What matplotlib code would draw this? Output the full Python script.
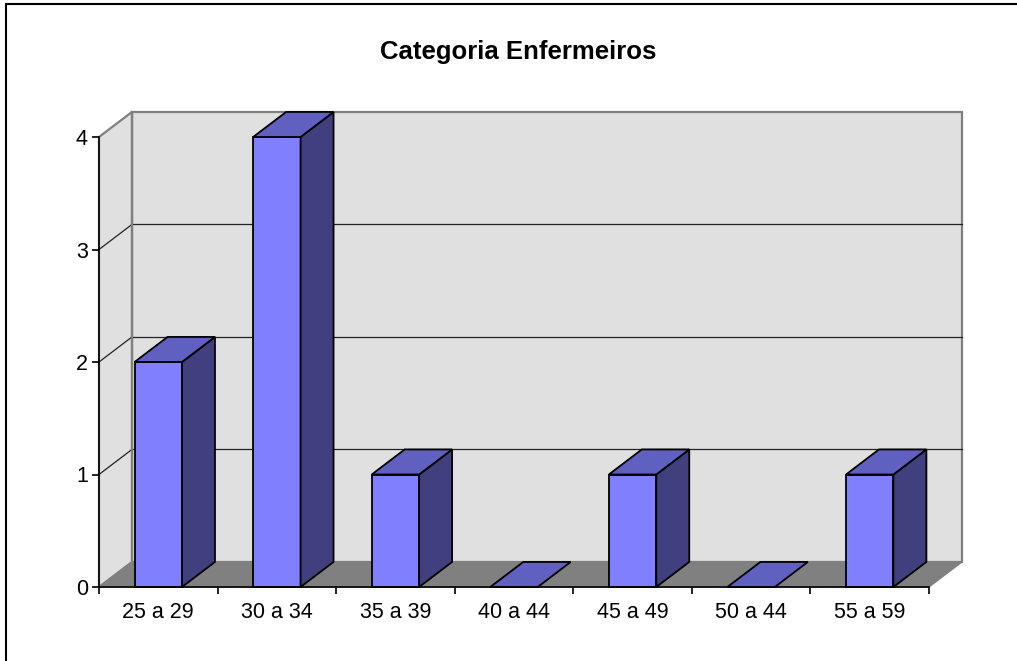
import matplotlib
matplotlib.use('Agg')
import matplotlib.pyplot as plt
from matplotlib.patches import Polygon, Rectangle

plt.rcParams['font.family'] = ['Liberation Sans', 'DejaVu Sans']

categorias = ['25 a 29', '30 a 34', '35 a 39', '40 a 44', '45 a 49', '50 a 44', '55 a 59']
valores = [2, 4, 1, 0, 1, 0, 1]
y_ticks = [0, 1, 2, 3, 4]
titulo = 'Categoria Enfermeiros'

# 3d look: depth offset in data units (x in categories, y in values)
dx = 0.278
dy = 0.2227
largura = 0.4

cor_frente = '#8080ff'
cor_lado = '#40407f'
cor_topo = '#6060c0'
cor_parede = '#e0e0e0'
cor_chao = '#808080'
cor_borda = '#808080'

fig = plt.figure(figsize=(10.17, 6.61), dpi=100)
# chart border, only left and top edges are inside the picture
fig.patches.append(Rectangle((6 / 1017, -0.05), 1.1, 1.05 - 4 / 661, transform=fig.transFigure,
                             fill=False, edgecolor='black', lw=1.5))

ax = fig.add_axes([99 / 1017, (661 - 587) / 661, 830 / 1017, 450 / 661])
n = len(categorias)
ymax = max(y_ticks)
ax.set_xlim(0, n)
ax.set_ylim(0, ymax)
ax.patch.set_visible(False)

def poly(pts, fc, ec, lw, z):
    ax.add_patch(Polygon(pts, closed=True, facecolor=fc, edgecolor=ec, lw=lw,
                         zorder=z, clip_on=False, joinstyle='miter'))

# back wall
poly([(dx, dy), (n + dx, dy), (n + dx, ymax + dy), (dx, ymax + dy)], cor_parede, cor_borda, 1.6, 1)
# left wall
poly([(0, 0), (dx, dy), (dx, ymax + dy), (0, ymax)], cor_parede, cor_borda, 1.6, 1)
# floor
poly([(0, 0), (n, 0), (n + dx, dy), (dx, dy)], cor_chao, cor_chao, 1.0, 2)

# gridlines
for v in y_ticks[1:-1]:
    ax.plot([dx, n + dx], [v + dy, v + dy], color='#222222', lw=0.9, zorder=1.5, clip_on=False)
for v in y_ticks[1:-1]:
    ax.plot([0, dx], [v, v + dy], color='#222222', lw=0.9, zorder=1.5, clip_on=False)
ax.plot([dx, dx], [dy, ymax + dy], color=cor_borda, lw=1.6, zorder=1.6, clip_on=False)

# bars
for i, v in enumerate(valores):
    x0 = i + 0.5 - largura / 2
    x1 = x0 + largura
    if v > 0:
        poly([(x0, 0), (x1, 0), (x1, v), (x0, v)], cor_frente, 'black', 1.3, 3)
        poly([(x1, 0), (x1 + dx, dy), (x1 + dx, v + dy), (x1, v)], cor_lado, 'black', 1.3, 3)
    poly([(x0, v), (x1, v), (x1 + dx, v + dy), (x0 + dx, v + dy)], cor_topo, 'black', 1.3, 3)

# axes
for s in ['top', 'right']:
    ax.spines[s].set_visible(False)
ax.spines['left'].set_linewidth(1.2)
ax.spines['bottom'].set_linewidth(1.2)
ax.spines['left'].set_zorder(4)
ax.spines['bottom'].set_zorder(4)

ax.set_yticks(y_ticks)
ax.set_yticklabels([str(t) for t in y_ticks], fontsize=15.5)
ax.tick_params(axis='y', direction='out', length=5, width=1.2, pad=3)

ax.set_xticks(range(n + 1))
ax.set_xticklabels([])
ax.tick_params(axis='x', which='major', direction='out', length=5, width=1.2)
ax.set_xticks([i + 0.5 for i in range(n)], minor=True)
ax.set_xticklabels(categorias, minor=True, fontsize=15.5)
ax.tick_params(axis='x', which='minor', length=0, pad=10.5)

fig.text(518 / 1017, 1 - 52 / 661, titulo, ha='center', va='center',
         fontsize=18.5, fontweight='bold')

plt.savefig('out.png', dpi=100)
